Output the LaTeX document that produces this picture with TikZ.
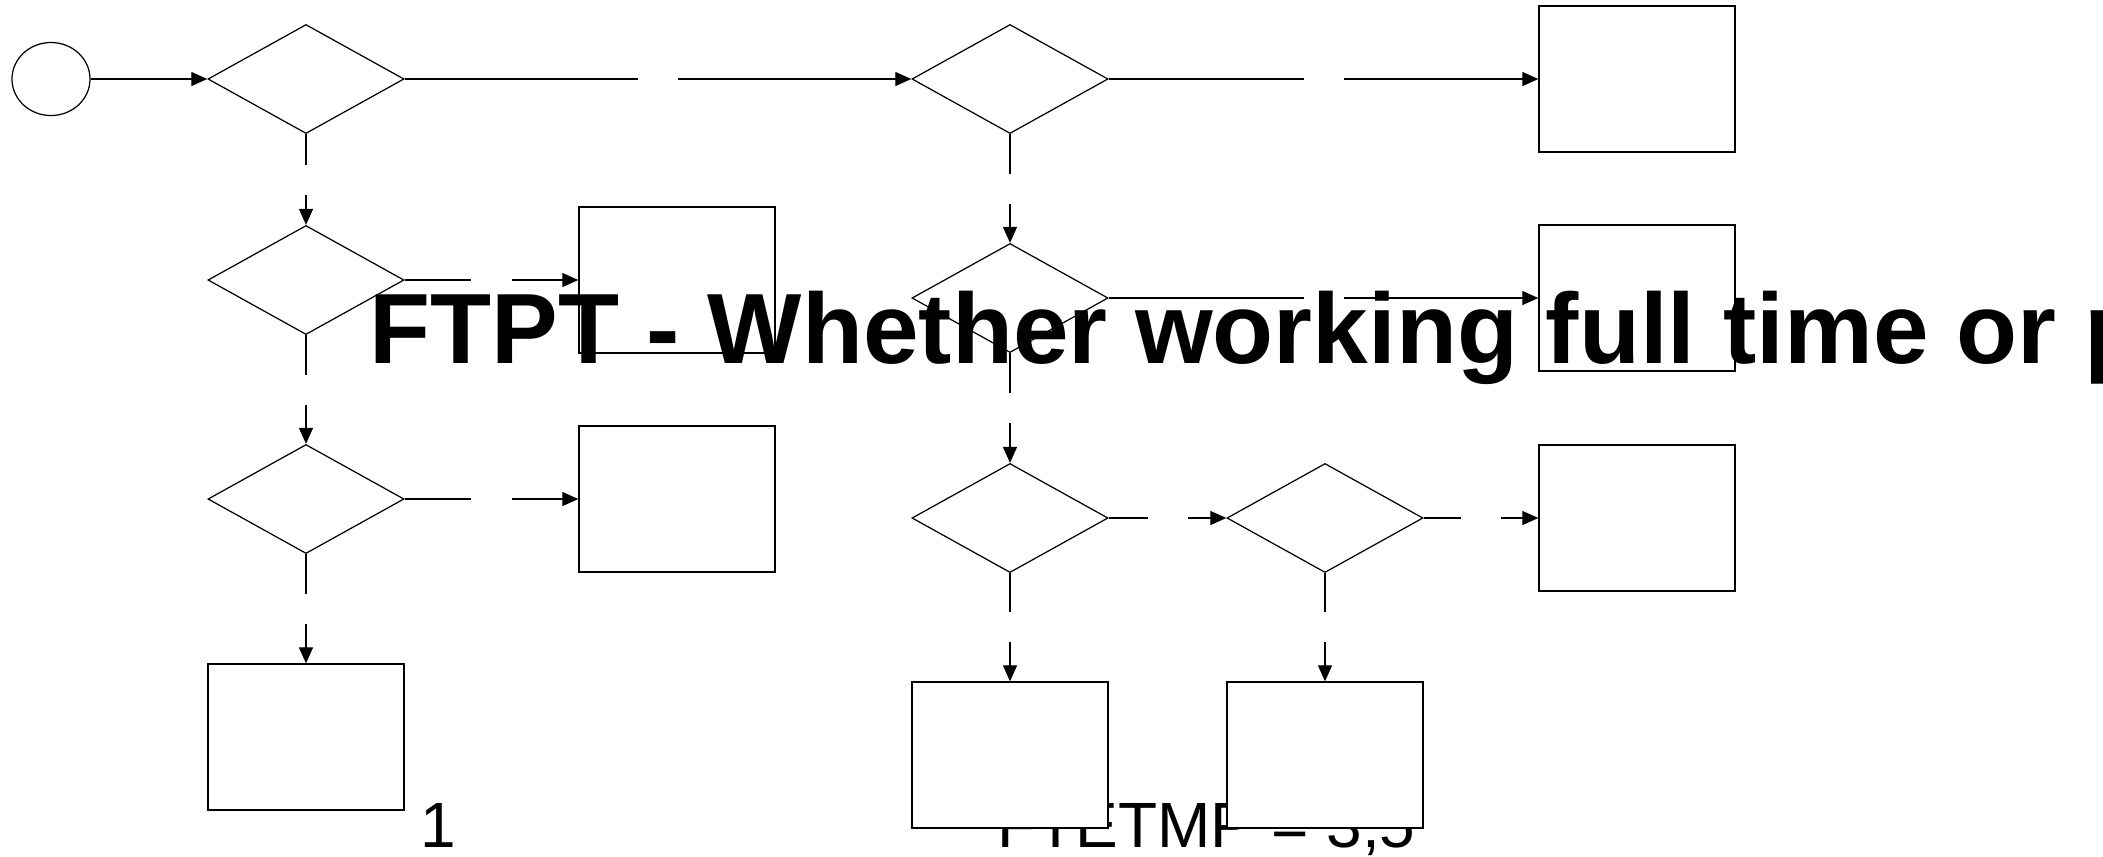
\documentclass[tikz,border=0pt]{standalone}
\usepackage{fontspec}
\setmainfont{Liberation Sans}
\usetikzlibrary{shapes.geometric,arrows.meta}

\begin{document}
\begin{tikzpicture}[x=0.01cm, y=-0.01cm, line width=0.35pt,
  dec/.style={draw, diamond, inner sep=0pt, minimum width=1.96cm, minimum height=1.09cm},
  box/.style={draw, fill=white, inner sep=0pt, minimum width=1.96cm, minimum height=1.46cm},
  gap/.style={fill=white, inner sep=0pt, minimum width=0.4cm, minimum height=0.3cm},
  arr/.style={-{Triangle[length=1.6mm, width=1.4mm]}},
  lab/.style={inner sep=0pt, anchor=base west, font=\fontsize{18.2pt}{20pt}\selectfont}]
  \useasboundingbox (0,0) rectangle (2103,856);
  \node[lab] (one) at (420,847) {1};
  \node[lab] (fte) at (997,847) {FTETMP = 3,5};
  \node[draw, ellipse, inner sep=0pt, minimum width=0.78cm, minimum height=0.73cm] (start) at (51,79) {};
  \node[dec] (d1) at (306,79) {};
  \node[dec] (d2) at (306,280) {};
  \node[dec] (d5) at (306,499) {};
  \node[dec] (d3) at (1010,79) {};
  \node[dec] (d4) at (1010,298) {};
  \node[dec] (d6) at (1010,518) {};
  \node[dec] (d7) at (1325,518) {};
  \node[box] (b1) at (677,280) {};
  \node[box] (b2) at (677,499) {};
  \node[box] (b3) at (306,737) {};
  \node[box] (r1) at (1637,79) {};
  \node[box] (r2) at (1637,298) {};
  \node[box] (r3) at (1637,518) {};
  \node[box] (m1) at (1010,755) {};
  \node[box] (m2) at (1325,755) {};
  \draw[arr] (start) -- (d1);
  \draw[arr] (d1) -- node[gap]{} (d3);
  \draw[arr] (d1) -- node[gap]{} (d2);
  \draw[arr] (d2) -- node[gap]{} (b1);
  \draw[arr] (d2) -- node[gap]{} (d5);
  \draw[arr] (d5) -- node[gap]{} (b2);
  \draw[arr] (d5) -- node[gap]{} (b3);
  \draw[arr] (d3) -- node[gap]{} (r1);
  \draw[arr] (d3) -- node[gap]{} (d4);
  \draw[arr] (d4) -- node[gap]{} (r2);
  \draw[arr] (d4) -- node[gap]{} (d6);
  \draw[arr] (d6) -- node[gap]{} (d7);
  \draw[arr] (d7) -- node[gap]{} (r3);
  \draw[arr] (d6) -- node[gap]{} (m1);
  \draw[arr] (d7) -- node[gap]{} (m2);
  \node[inner sep=0pt, anchor=base west, font=\fontsize{28.4pt}{31pt}\selectfont\bfseries] (title) at (369,363) {FTPT - Whether working full time or p};
\end{tikzpicture}
\end{document}
